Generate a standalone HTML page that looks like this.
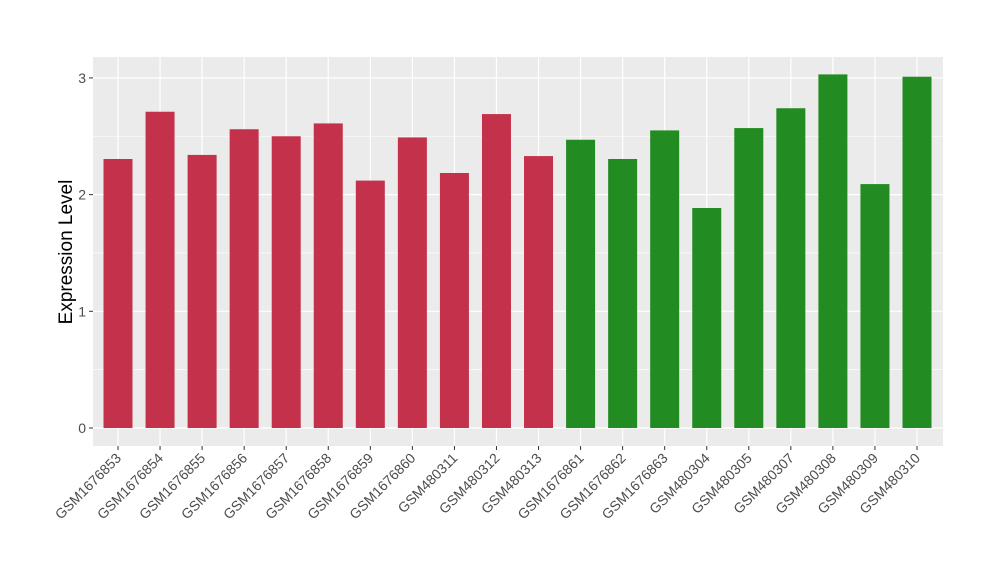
<!DOCTYPE html>
<html><head><meta charset="utf-8">
<style>
html,body{margin:0;padding:0;background:#fff;}
svg{display:block;font-family:"Liberation Sans",Arial,sans-serif;}
</style></head>
<body>
<svg id="chart" width="1000" height="580" viewBox="0 0 1000 580">
<rect x="93" y="57" width="850" height="389" fill="#EBEBEB"/>
<g id="grid"></g>
<g id="bars"></g>
<g id="axes"></g>
<text x="0" y="0" transform="translate(72,252) rotate(-90)" text-anchor="middle" font-size="19" fill="#000">Expression Level</text>
</svg>
<script>
const categories = ["GSM1676853","GSM1676854","GSM1676855","GSM1676856","GSM1676857","GSM1676858","GSM1676859","GSM1676860","GSM480311","GSM480312","GSM480313","GSM1676861","GSM1676862","GSM1676863","GSM480304","GSM480305","GSM480307","GSM480308","GSM480309","GSM480310"];
const values = [2.305,2.71,2.34,2.56,2.50,2.61,2.12,2.49,2.185,2.69,2.33,2.47,2.305,2.55,1.885,2.57,2.74,3.03,2.09,3.01];
const groups = [0,0,0,0,0,0,0,0,0,0,0,1,1,1,1,1,1,1,1,1];
const yTicks = [0,1,2,3];
const yMinor = [0.5,1.5,2.5];

const NS="http://www.w3.org/2000/svg";
const colors=["#C3314A","#228B22"];
const y0px=428, unit=116.7;
const yScale=v=>y0px-v*unit;
const xStart=118, step=(917-118)/19, barW=29;
const xScale=i=>xStart+i*step;
function mk(tag,attrs,parent){const e=document.createElementNS(NS,tag);for(const k in attrs)e.setAttribute(k,attrs[k]);parent.appendChild(e);return e;}
const grid=document.getElementById('grid'),bars=document.getElementById('bars'),axes=document.getElementById('axes');
yMinor.forEach(v=>{const l=mk('line',{x1:93,x2:943,y1:yScale(v),y2:yScale(v),stroke:'#fff','stroke-width':0.6},grid);

});
yTicks.forEach(v=>{const l=mk('line',{x1:93,x2:943,y1:yScale(v),y2:yScale(v),stroke:'#fff','stroke-width':1.2},grid);


const t=mk('line',{x1:89,x2:93,y1:yScale(v),y2:yScale(v),stroke:'#333','stroke-width':1},axes);


const tx=mk('text',{x:86,y:yScale(v)+5,'text-anchor':'end','font-size':14,fill:'#4d4d4d'},axes);
tx.textContent=v;

});
categories.forEach((c,i)=>{const x=xScale(i);
const g=mk('line',{x1:x,x2:x,y1:57,y2:446,stroke:'#fff','stroke-width':1.2},grid);


const r=mk('rect',{x:x-barW/2,y:yScale(values[i]),width:barW,height:yScale(0)-yScale(values[i]),fill:colors[groups[i]]},bars);


const t=mk('line',{x1:x,x2:x,y1:446,y2:450,stroke:'#333','stroke-width':1},axes);


const tx=mk('text',{x:0,y:0,transform:`translate(${x+4},${459}) rotate(-45)`,'text-anchor':'end','font-size':14,fill:'#4d4d4d'},axes);
tx.textContent=c;

});
</script>
</body></html>
